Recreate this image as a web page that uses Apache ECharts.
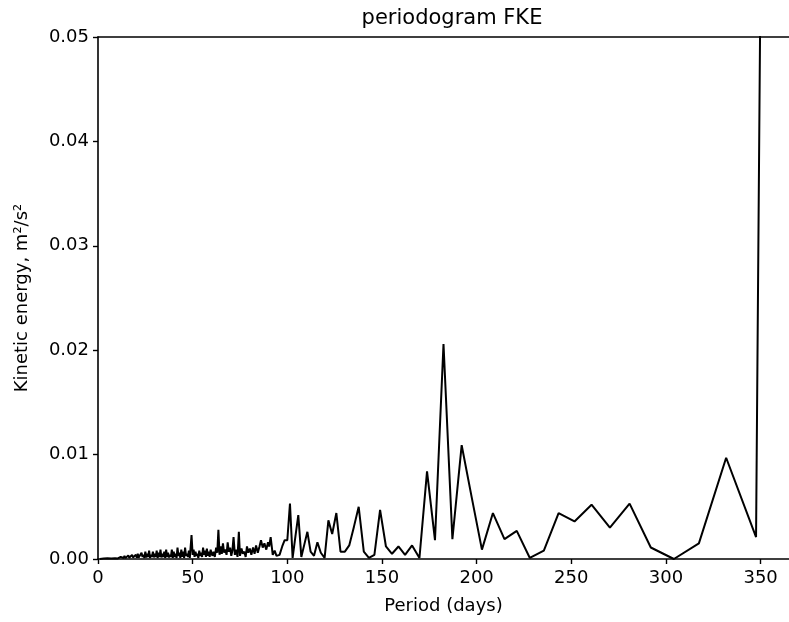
<!DOCTYPE html>
<html>
<head>
<meta charset="utf-8">
<script src="https://cdn.jsdelivr.net/npm/echarts@6/dist/echarts.min.js"></script>
<style>
html,body{margin:0;padding:0;background:#fff;}
#chart{width:789px;height:622px;}
</style>
</head>
<body>
<div id="chart"></div>
<script>
// Period (days) and kinetic energy (m^2/s^2)
var periods = [
  1,2,3,4,5,6,7,8,9,10,
  10.5,11,11.5,12,12.5,13,13.5,14,14.5,15,15.5,16,16.5,17,17.5,18,18.5,19,19.5,20,
  20.5,21,21.5,22,22.5,23,23.5,24,24.5,25,25.5,26,26.5,27,27.5,28,28.5,29,29.5,30,
  30.5,31,31.5,32,32.5,33,33.5,34,34.5,35,35.5,36,36.5,37,37.5,38,38.5,39,39.5,40,
  40.5,41,41.5,42,42.5,43,43.5,44,44.5,45,45.5,46,46.5,47,47.5,48,48.5,49.4,50,50.5,
  51,51.5,52,52.5,53,53.5,54,54.5,55,55.5,56,56.5,57,57.5,58,58.5,59,59.5,60,60.5,
  61,61.7,62.4,63,63.6,64.2,64.8,65.4,66,66.6,67.2,67.9,68.5,69.1,69.8,70.4,
  71,71.6,72.3,73,73.7,74.4,75,75.8,76.5,77.3,78,78.7,79.4,80.2,
  81,81.9,82.7,83.5,84.4,85.3,86.1,87,87.9,88.9,89.8,90.4,91.2,92.3,93.3,94.3,95.9,97.3,98.6,100,
  101.4,102.8,104.3,105.8,107.4,109.0,110.6,112.3,114.1,115.9,117.7,119.7,121.7,123.7,125.9,
  128.1,130.4,132.7,135.2,137.7,140.4,143.1,146.0,149.0,152.1,155.3,158.7,162.2,165.9,169.8,
  173.8,178.0,182.5,187.2,192.1,197.3,202.8,208.6,214.7,221.2,228.1,235.5,243.3,251.7,260.7,
  270.4,280.8,292.0,304.2,317.4,331.8,347.6,365
];
var energy = [
  0,0.00003,0.00005,0.00004,0.00006,0.00008,0.00005,0.0001,0.00007,0.00012,
  0.00005,0.00018,0.00006,0.0002,0.00008,0.00025,0.0001,0.0003,0.00008,0.00022,0.0001,0.00035,0.00012,0.0003,0.00008,0.0004,0.00015,0.00028,0.0001,0.0004,
  0.00012,0.0005,0.00015,0.0003,0.0001,0.0006,0.0002,0.0004,0.0001,0.0007,0.00015,0.0005,0.0002,0.0008,0.0001,0.0004,0.0002,0.0007,0.00015,0.0005,
  0.0002,0.0008,0.0001,0.0006,0.0002,0.0009,0.00015,0.0005,0.0002,0.0007,0.0001,0.0009,0.0002,0.0006,0.00015,0.0004,0.0002,0.0009,0.0001,0.0007,
  0.0002,0.0005,0.0001,0.0011,0.0003,0.0006,0.0001,0.0009,0.0002,0.0007,0.0001,0.0011,0.0003,0.0005,0.0002,0.0008,0.0001,0.0023,0.0004,0.0009,
  0.0002,0.0007,0.0003,0.0005,0.0001,0.0008,0.0003,0.0006,0.0002,0.0011,0.0004,0.0008,0.0002,0.0010,0.0003,0.0007,0.0002,0.0009,0.0005,0.0003,
  0.0007,0.0002,0.0011,0.0006,0.0028,0.0004,0.0012,0.0005,0.0015,0.0006,0.0009,0.0004,0.0016,0.0007,0.0011,0.0003,
  0.0008,0.0021,0.0004,0.0009,0.0002,0.0026,0.0003,0.0010,0.0005,0.0007,0.0002,0.0012,0.0006,0.0010,
  0.0004,0.0011,0.0005,0.0013,0.0006,0.0012,0.0018,0.0011,0.0015,0.0009,0.0016,0.0012,0.0021,0.0004,0.0008,0.0003,0.0004,0.0012,0.0018,0.0018,
  0.0053,0.0001,0.0022,0.0042,0.0002,0.0014,0.0026,0.0007,0.0003,0.0016,0.0006,0.0001,0.0037,0.0024,0.0044,
  0.0007,0.0007,0.0013,0.0031,0.0050,0.0007,0.0001,0.0004,0.0047,0.0012,0.0005,0.0012,0.0004,0.0013,0.0001,
  0.0084,0.0018,0.0206,0.0019,0.0109,0.0060,0.0009,0.0044,0.0019,0.0027,0.0001,0.0008,0.0044,0.0036,0.0052,
  0.0030,0.0053,0.0011,0.0000,0.0015,0.0097,0.0021,0.4
];
var xTicks = [0,50,100,150,200,250,300,350];
var yTicks = [0,0.01,0.02,0.03,0.04,0.05];

var seriesData = periods.map(function(p,i){ return [p, energy[i]]; });
var font = 'DejaVu Sans';
var chart = echarts.init(document.getElementById('chart'), null, {renderer:'canvas'});
chart.setOption({
  animation:false,
  backgroundColor:'#ffffff',
  title:{
    text:'periodogram FKE', left:447, top:3, textAlign:'center',
    textStyle:{fontFamily:font,fontSize:21,fontWeight:'normal',color:'#000'}
  },
  grid:{left:98, top:37, width:698, height:522, containLabel:false},
  xAxis:[{
    type:'value', min:0, max:365, interval:50,
    name:'Period (days)', nameLocation:'middle', nameGap:38,
    nameTextStyle:{fontFamily:font,fontSize:18,color:'#000'},
    axisLine:{show:true,onZero:false,lineStyle:{color:'#000',width:1.6}},
    axisTick:{show:true,length:5,inside:false,lineStyle:{color:'#000',width:1.4}},
    axisLabel:{fontFamily:font,fontSize:18,color:'#000',margin:10,showMaxLabel:false,
      formatter:function(v){return xTicks.indexOf(v)>=0 ? String(v) : '';}},
    splitLine:{show:false}
  },{
    type:'value', min:0, max:365, position:'top',
    axisLine:{show:true,onZero:false,lineStyle:{color:'#000',width:1.6}},
    axisTick:{show:false}, axisLabel:{show:false}, splitLine:{show:false}
  }],
  yAxis:{
    type:'value', min:0, max:0.05, interval:0.01,
    name:'Kinetic energy, m²/s²', nameLocation:'middle', nameGap:67, nameRotate:90,
    nameTextStyle:{fontFamily:font,fontSize:18,color:'#000'},
    axisLine:{show:true,lineStyle:{color:'#000',width:1.6}},
    axisTick:{show:true,length:5,lineStyle:{color:'#000',width:1.4}},
    axisLabel:{fontFamily:font,fontSize:18,color:'#000',margin:9,
      formatter:function(v){return v.toFixed(2);}},
    splitLine:{show:false}
  },
  series:[{
    type:'line', data:seriesData, xAxisIndex:0,
    showSymbol:false, clip:true,
    lineStyle:{color:'#000',width:2},
    emphasis:{disabled:true}
  }]
});
</script>
</body>
</html>
